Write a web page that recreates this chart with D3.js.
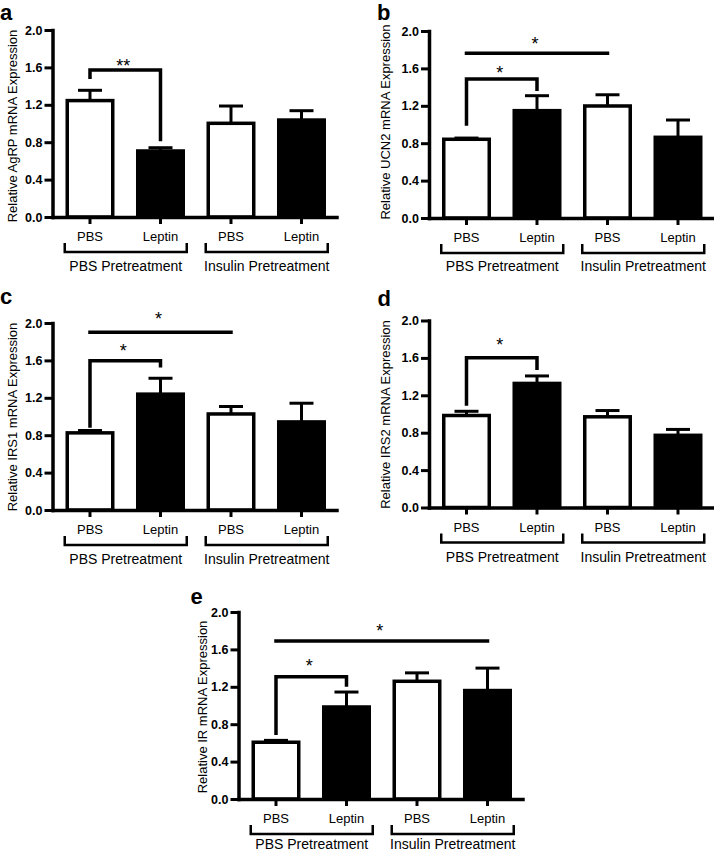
<!DOCTYPE html>
<html>
<head>
<meta charset="utf-8">
<script src="https://cdn.jsdelivr.net/npm/d3@7"></script>
<style>
  html, body { margin: 0; padding: 0; background: #fff; }
  svg { display: block; font-family: "Liberation Sans", Arial, sans-serif; }
</style>
</head>
<body>
<svg id="chart" width="714" height="853"></svg>
<script>
// ---------------- data ----------------
const categories = ["PBS", "Leptin", "PBS", "Leptin"];
const groups = ["PBS Pretreatment", "Insulin Pretreatment"];
const yTicks = [0, 0.4, 0.8, 1.2, 1.6, 2.0];

const genes = ["AgRP", "UCN2", "IRS1", "IRS2", "IR"];
const panelLetters = ["a", "b", "c", "d", "e"];

const agrpMean = [1.245, 0.706, 1.002, 1.037];
const agrpSem  = [0.110, 0.035, 0.185, 0.100];
const ucn2Mean = [0.842, 1.148, 1.198, 0.863];
const ucn2Sem  = [0.013, 0.160, 0.120, 0.185];
const irs1Mean = [0.825, 1.239, 1.027, 0.942];
const irs1Sem  = [0.025, 0.170, 0.080, 0.200];
const irs2Mean = [0.984, 1.327, 0.970, 0.772];
const irs2Sem  = [0.045, 0.080, 0.067, 0.063];
const irMean   = [0.607, 0.984, 1.259, 1.160];
const irSem    = [0.020, 0.160, 0.090, 0.240];

// significance annotations: bars compared, level of bar, leg ends, label level
const agrpSig = [{from: 0, to: 1, top: 1.572, legFrom: 1.494, legTo: 0.830, star: 1.668, label: "**"}];
const ucn2Sig = [
  {from: 0, to: 2, top: 1.761, legFrom: 1.761, legTo: 1.761, star: 1.914, label: "*"},
  {from: 0, to: 1, top: 1.487, legFrom: 1.005, legTo: 1.376, star: 1.604, label: "*"}
];
const irs1Sig = [
  {from: 0, to: 2, top: 1.901, legFrom: 1.901, legTo: 1.901, star: 2.086, label: "*"},
  {from: 0, to: 1, top: 1.597, legFrom: 0.898, legTo: 1.543, star: 1.747, label: "*"}
];
const irs2Sig = [{from: 0, to: 1, top: 1.602, legFrom: 1.107, legTo: 1.489, star: 1.781, label: "*"}];
const irSig = [
  {from: 0, to: 3, top: 1.690, legFrom: 1.690, legTo: 1.690, star: 1.843, label: "*"},
  {from: 0, to: 1, top: 1.308, legFrom: 0.703, legTo: 1.219, star: 1.468, label: "*"}
];

const means = [agrpMean, ucn2Mean, irs1Mean, irs2Mean, irMean];
const sems = [agrpSem, ucn2Sem, irs1Sem, irs2Sem, irSem];
const sigs = [agrpSig, ucn2Sig, irs1Sig, irs2Sig, irSig];

// ---------------- layout ----------------
const layout = [
  {ox: 52.5, oy: 217,   lx: 0,     ly: 20,    labX: -40, labY: -91, grpY: 54},
  {ox: 429,  oy: 218,   lx: 377,   ly: 19.5,  labX: -44, labY: -96, grpY: 53},
  {ox: 52.5, oy: 510,   lx: 0,     ly: 303.5, labX: -40, labY: -93, grpY: 54},
  {ox: 429,  oy: 507.5, lx: 377.5, ly: 306,   labX: -44, labY: -93, grpY: 54},
  {ox: 238.5, oy: 799,  lx: 190.5, ly: 603.5, labX: -36, labY: -92, grpY: 50}
];
const plotW = 284, plotH = 187;
const fillColors = ["#ffffff", "#000000", "#ffffff", "#000000"];

const svg = d3.select("#chart");
svg.append("rect").attr("width", 714).attr("height", 853).attr("fill", "#fff");

const x = d3.scaleBand().domain(d3.range(categories.length)).range([0, plotW])
  .paddingInner(0.3546).paddingOuter(0.1915).align(0.546);
const y = d3.scaleLinear().domain([0, 2]).range([0, -plotH]);
const bw = x.bandwidth();
const cx = i => x(i) + bw / 2;

genes.forEach((gene, p) => {
  const L = layout[p];
  const g = svg.append("g").attr("transform", `translate(${L.ox},${L.oy})`);
  const m = means[p], s = sems[p];

  // error bars (upper)
  const eb = g.append("g").attr("stroke", "#000").attr("stroke-width", 3).attr("fill", "none");
  m.forEach((v, i) => {
    eb.append("line").attr("x1", cx(i)).attr("x2", cx(i)).attr("y1", y(v)).attr("y2", y(v + s[i]));
    eb.append("line").attr("x1", cx(i) - 12).attr("x2", cx(i) + 12).attr("y1", y(v + s[i])).attr("y2", y(v + s[i]));
  });

  // bars
  g.selectAll("rect.bar").data(m).join("rect").attr("class", "bar")
    .attr("x", (d, i) => x(i)).attr("y", d => y(d))
    .attr("width", bw).attr("height", d => -y(d))
    .attr("fill", (d, i) => fillColors[i])
    .attr("stroke", "#000").attr("stroke-width", 3.5);

  // y axis
  const ya = g.append("g").call(d3.axisLeft(y).tickValues(yTicks).tickFormat(d3.format(".1f"))
    .tickSize(8).tickSizeOuter(0).tickPadding(2));
  ya.select(".domain").attr("stroke-width", 3.5).attr("stroke-linecap", "square");
  ya.selectAll(".tick line").attr("stroke-width", 3);
  ya.selectAll(".tick text").attr("font-size", 12.5).attr("font-weight", "bold")
    .attr("font-family", "Liberation Sans, Arial, sans-serif").attr("fill", "#000");

  // x axis
  const xa = g.append("g").call(d3.axisBottom(x).tickFormat(i => categories[i])
    .tickSize(7).tickSizeOuter(0).tickPadding(8));
  xa.select(".domain").attr("stroke-width", 3.5).attr("stroke-linecap", "square");
  xa.selectAll(".tick line").attr("stroke-width", 3);
  xa.selectAll(".tick text").attr("font-size", 13)
    .attr("font-family", "Liberation Sans, Arial, sans-serif").attr("fill", "#000");

  // group brackets
  groups.forEach((name, k) => {
    const x1 = x(2 * k) - 2.5, x2 = x(2 * k + 1) + bw + 3.5;
    g.append("path")
      .attr("d", `M${x1},26 V35 H${x2} V26`)
      .attr("fill", "none").attr("stroke", "#000").attr("stroke-width", 2.5);
    g.append("text").attr("x", (x1 + x2) / 2).attr("y", L.grpY)
      .attr("text-anchor", "middle").attr("font-size", 14).attr("fill", "#000").text(name);
  });

  // significance
  sigs[p].forEach(sg => {
    const xa1 = cx(sg.from), xa2 = cx(sg.to);
    g.append("path")
      .attr("d", `M${xa1},${y(sg.legFrom)} V${y(sg.top)} H${xa2} V${y(sg.legTo)}`)
      .attr("fill", "none").attr("stroke", "#000").attr("stroke-width", 3.5)
      .attr("stroke-linecap", "square");
    g.append("text").attr("x", (xa1 + xa2) / 2 - 2).attr("y", y(sg.star) + 10.5)
      .attr("text-anchor", "middle").attr("font-size", 18).attr("fill", "#000").text(sg.label);
  });

  // y label
  g.append("text")
    .attr("transform", `translate(${L.labX},${L.labY}) rotate(-90)`)
    .attr("text-anchor", "middle").attr("dominant-baseline", "central")
    .attr("font-size", 13).attr("fill", "#000")
    .text(`Relative ${gene} mRNA Expression`);

  // panel letter
  svg.append("text").attr("x", L.lx).attr("y", L.ly)
    .attr("font-size", 22).attr("font-weight", "bold").attr("fill", "#000")
    .text(panelLetters[p]);
});
</script>
</body>
</html>
